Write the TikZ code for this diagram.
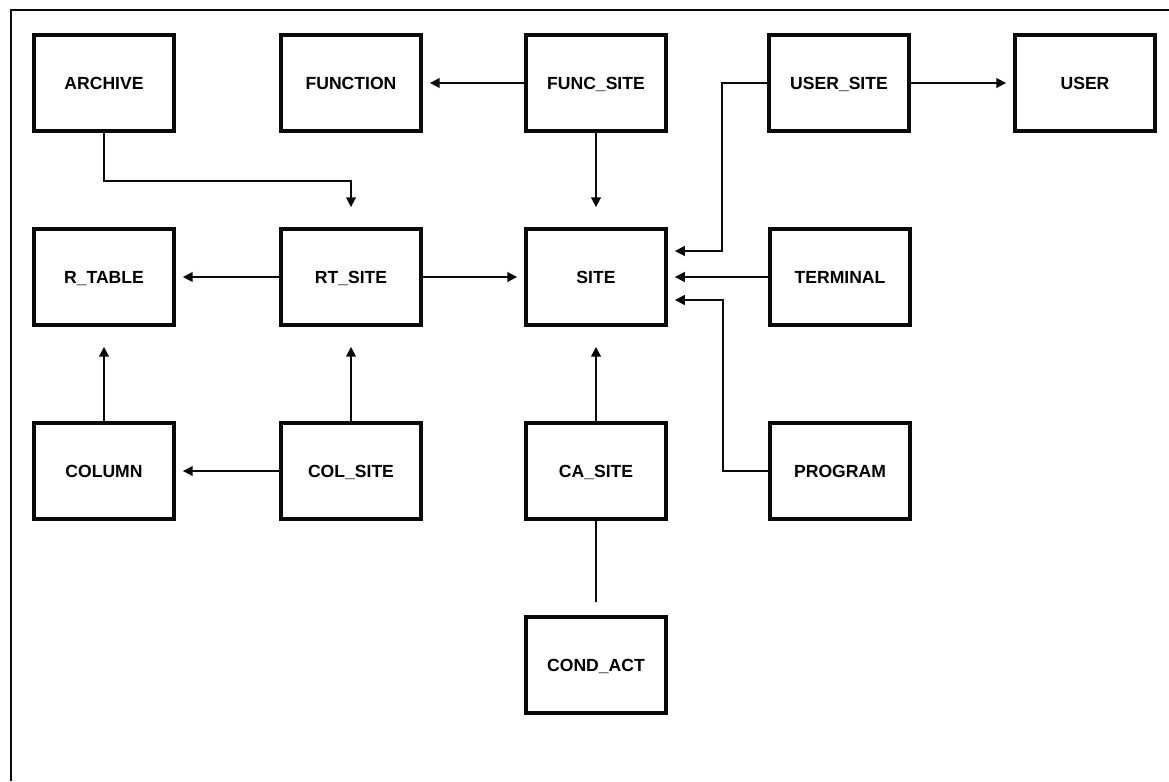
\documentclass[tikz,border=0pt]{standalone}
\usepackage{fontspec}
\setmainfont{Liberation Sans}
\usetikzlibrary{positioning, calc, arrows.meta}
\definecolor{ink}{RGB}{10,10,10}
\tikzset{
  entbox/.style={draw=ink, line width=2pt, minimum width=2.8cm, minimum height=1.92cm,
    align=center, font=\bfseries\fontsize{10}{12}\selectfont, inner sep=1pt,
    text height=1.6ex, text depth=0.3ex},
  entedge/.style={draw=ink, line width=1.6pt},
  entlink/.style={entedge, -{Triangle[length=0.2cm, width=0.19cm]}, shorten >=0.14cm},
  entlinkfar/.style={entlink, shorten >=0.4cm},
  frameline/.style={draw=ink, line width=1.4pt}
}
\begin{document}
\begin{tikzpicture}[x=0.02cm, y=-0.02cm]
  \useasboundingbox (0,0) rectangle (1169,781);
  \draw[frameline] (11,781) -- (11,10) -- (1169,10);
  % row 1
  \node[entbox] (archive) at (104,83) {ARCHIVE};
  \node[entbox] (function) at (351,83) {FUNCTION};
  \node[entbox] (funcsite) at (596,83) {FUNC\_SITE};
  \node[entbox] (usersite) at (839,83) {USER\_SITE};
  \node[entbox] (user) at (1085,83) {USER};
  % row 2
  \node[entbox] (rtable) at (104,277) {R\_TABLE};
  \node[entbox] (rtsite) at (351,277) {RT\_SITE};
  \node[entbox] (site) at (596,277) {SITE};
  \node[entbox] (terminal) at (840,277) {TERMINAL};
  % row 3
  \node[entbox] (column) at (104,471) {COLUMN};
  \node[entbox] (colsite) at (351,471) {COL\_SITE};
  \node[entbox] (casite) at (596,471) {CA\_SITE};
  \node[entbox] (program) at (840,471) {PROGRAM};
  % row 4
  \node[entbox] (condact) at (596,665) {COND\_ACT};
  % bends
  \coordinate (abend) at (351,181);
  \coordinate (ubend) at (722,251);
  \coordinate (pbend) at (723,300);
  % links
  \draw[entlink] (funcsite) -- (function);
  \draw[entlink] (usersite) -- (user);
  \draw[entlinkfar] (funcsite) -- (site);
  \draw[entlinkfar] (archive.south) |- (abend) -- (rtsite.north);
  \draw[entlink] (rtsite) -- (rtable);
  \draw[entlink] (rtsite) -- (site);
  \draw[entlink] (usersite.west) -| (ubend) -- (ubend -| site.east);
  \draw[entlink] (terminal) -- (site);
  \draw[entlink] (program.west) -| (pbend) -- (pbend -| site.east);
  \draw[entlinkfar] (column) -- (rtable);
  \draw[entlinkfar] (colsite) -- (rtsite);
  \draw[entlink] (colsite) -- (column);
  \draw[entlinkfar] (casite) -- (site);
  \draw[entedge, shorten >=0.26cm] (casite) -- (condact);
\end{tikzpicture}
\end{document}
